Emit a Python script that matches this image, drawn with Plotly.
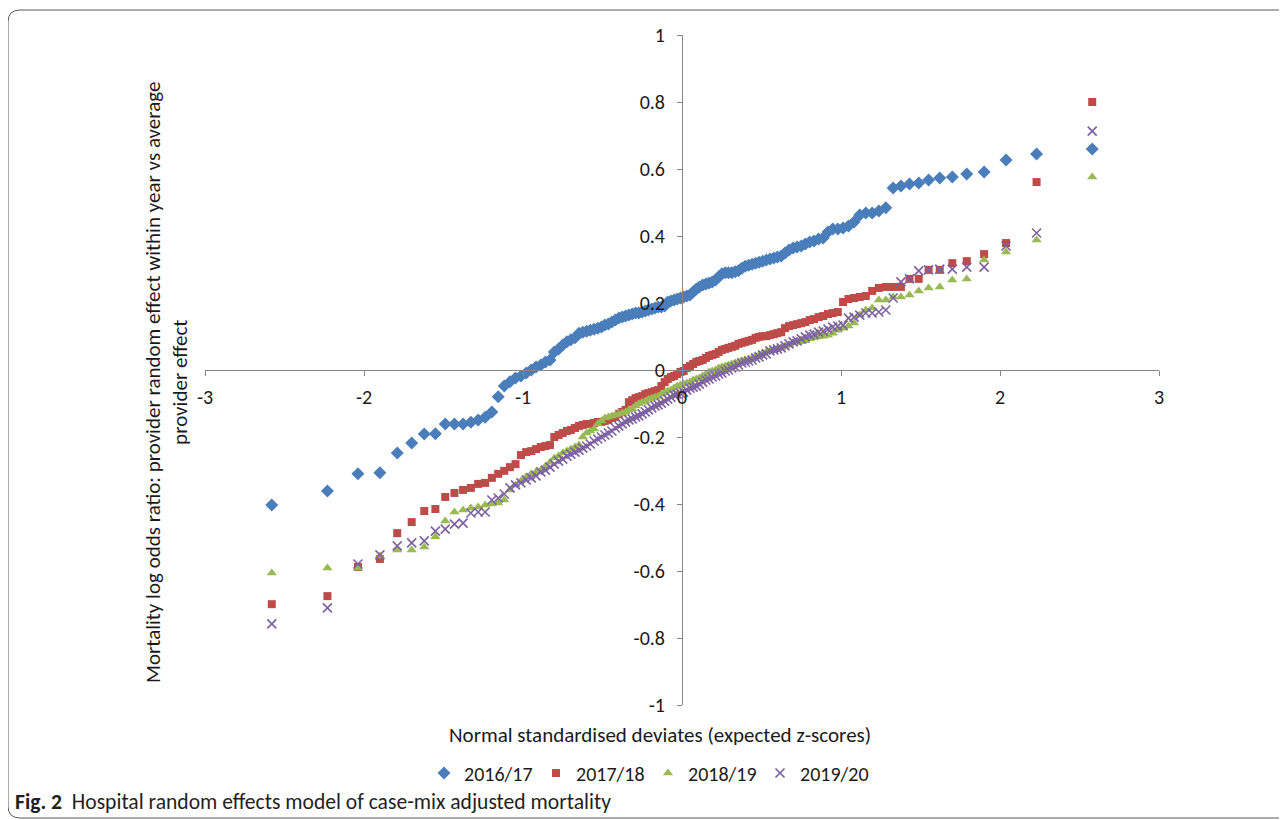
import plotly.graph_objects as go

# Expected z-scores (normal standardised deviates), one per ranked provider
z_scores = [-2.58, -2.23, -2.038, -1.900, -1.791, -1.700, -1.621, -1.551, -1.489, -1.431,
            -1.377, -1.328, -1.282, -1.238, -1.196, -1.156, -1.118, -1.082, -1.047, -1.013,
            -0.980, -0.948, -0.918, -0.888, -0.859, -0.830, -0.803, -0.776, -0.750, -0.724,
            -0.699, -0.673, -0.648, -0.624, -0.600, -0.577, -0.553, -0.530, -0.507, -0.485,
            -0.463, -0.441, -0.419, -0.397, -0.376, -0.355, -0.334, -0.313, -0.292, -0.272,
            -0.251, -0.231, -0.211, -0.190, -0.170, -0.150, -0.130, -0.109, -0.090, -0.070,
            -0.050, -0.030, -0.010,
            0.010, 0.030, 0.050, 0.070, 0.090, 0.109, 0.130, 0.150, 0.170, 0.190,
            0.211, 0.231, 0.251, 0.272, 0.292, 0.313, 0.334, 0.355, 0.376, 0.397,
            0.419, 0.441, 0.463, 0.485, 0.507, 0.530, 0.553, 0.577, 0.600, 0.624,
            0.648, 0.673, 0.699, 0.724, 0.750, 0.776, 0.803, 0.830, 0.859, 0.888,
            0.918, 0.948, 0.980, 1.013, 1.047, 1.082, 1.118, 1.156, 1.196, 1.238,
            1.282, 1.328, 1.377, 1.431, 1.489, 1.551, 1.621, 1.700, 1.791, 1.900,
            2.038, 2.23, 2.58]

y_2016_17 = [-0.403, -0.361, -0.310, -0.307, -0.248, -0.218, -0.191, -0.190, -0.161, -0.161,
             -0.161, -0.156, -0.149, -0.141, -0.125, -0.080, -0.048, -0.035, -0.024, -0.018,
             -0.009, 0.000, 0.009, 0.015, 0.024, 0.030, 0.054, 0.063, 0.075, 0.084,
             0.090, 0.096, 0.110, 0.113, 0.116, 0.119, 0.122, 0.125, 0.128, 0.134,
             0.137, 0.143, 0.149, 0.155, 0.158, 0.161, 0.164, 0.167, 0.170, 0.170,
             0.173, 0.176, 0.179, 0.182, 0.185, 0.188, 0.188, 0.191, 0.203, 0.206,
             0.209, 0.212, 0.215,
             0.218, 0.221, 0.224, 0.233, 0.242, 0.248, 0.254, 0.257, 0.260, 0.263,
             0.269, 0.278, 0.287, 0.290, 0.290, 0.290, 0.293, 0.296, 0.304, 0.310,
             0.313, 0.316, 0.319, 0.322, 0.325, 0.328, 0.331, 0.334, 0.337, 0.340,
             0.349, 0.358, 0.364, 0.367, 0.370, 0.376, 0.382, 0.385, 0.391, 0.394,
             0.412, 0.421, 0.421, 0.424, 0.430, 0.442, 0.463, 0.469, 0.469, 0.475,
             0.484, 0.543, 0.549, 0.555, 0.558, 0.567, 0.573, 0.576, 0.585, 0.591,
             0.627, 0.645, 0.660]

y_2017_18 = [-0.699, -0.675, -0.588, -0.564, -0.487, -0.454, -0.421, -0.415, -0.379, -0.367,
             -0.358, -0.352, -0.340, -0.337, -0.322, -0.310, -0.301, -0.290, -0.281, -0.254,
             -0.245, -0.242, -0.236, -0.230, -0.227, -0.224, -0.200, -0.194, -0.188, -0.182,
             -0.179, -0.173, -0.167, -0.164, -0.161, -0.161, -0.158, -0.155, -0.155, -0.152,
             -0.149, -0.143, -0.140, -0.131, -0.125, -0.119, -0.096, -0.090, -0.084, -0.081,
             -0.078, -0.072, -0.069, -0.066, -0.063, -0.060, -0.048, -0.036, -0.027, -0.021,
             -0.018, -0.012, -0.006,
             -0.003, 0.006, 0.012, 0.018, 0.024, 0.027, 0.030, 0.036, 0.042, 0.045,
             0.048, 0.054, 0.060, 0.063, 0.066, 0.069, 0.072, 0.078, 0.081, 0.084,
             0.087, 0.090, 0.096, 0.099, 0.101, 0.101, 0.104, 0.107, 0.110, 0.113,
             0.125, 0.131, 0.134, 0.137, 0.140, 0.143, 0.149, 0.152, 0.158, 0.161,
             0.167, 0.170, 0.173, 0.203, 0.212, 0.215, 0.218, 0.221, 0.236, 0.245,
             0.248, 0.248, 0.248, 0.272, 0.272, 0.299, 0.299, 0.319, 0.325, 0.346,
             0.379, 0.561, 0.800]

y_2018_19 = [-0.606, -0.591, -0.591, -0.555, -0.537, -0.537, -0.528, -0.498, -0.451, -0.424,
             -0.418, -0.412, -0.409, -0.403, -0.400, -0.397, -0.388, -0.358, -0.343, -0.331,
             -0.319, -0.310, -0.304, -0.299, -0.287, -0.275, -0.263, -0.257, -0.248, -0.242,
             -0.236, -0.230, -0.224, -0.200, -0.188, -0.182, -0.176, -0.161, -0.152, -0.143,
             -0.140, -0.137, -0.134, -0.131, -0.128, -0.125, -0.119, -0.116, -0.107, -0.101,
             -0.096, -0.093, -0.087, -0.084, -0.081, -0.078, -0.072, -0.069, -0.063, -0.060,
             -0.054, -0.048, -0.045,
             -0.042, -0.039, -0.036, -0.030, -0.027, -0.024, -0.018, -0.012, -0.006, -0.003,
             0.000, 0.006, 0.009, 0.012, 0.015, 0.018, 0.021, 0.024, 0.027, 0.030,
             0.033, 0.036, 0.042, 0.045, 0.051, 0.054, 0.057, 0.060, 0.063, 0.066,
             0.072, 0.075, 0.081, 0.081, 0.084, 0.087, 0.093, 0.096, 0.099, 0.101,
             0.104, 0.110, 0.119, 0.125, 0.131, 0.140, 0.164, 0.179, 0.185, 0.209,
             0.209, 0.218, 0.218, 0.224, 0.236, 0.245, 0.248, 0.269, 0.272, 0.328,
             0.352, 0.388, 0.576]

y_2019_20 = [-0.758, -0.710, -0.579, -0.552, -0.525, -0.516, -0.510, -0.481, -0.475, -0.460,
             -0.457, -0.427, -0.424, -0.424, -0.388, -0.382, -0.370, -0.352, -0.343, -0.337,
             -0.328, -0.322, -0.316, -0.304, -0.299, -0.290, -0.281, -0.272, -0.266, -0.257,
             -0.251, -0.245, -0.239, -0.233, -0.227, -0.221, -0.212, -0.206, -0.200, -0.194,
             -0.188, -0.182, -0.173, -0.167, -0.161, -0.155, -0.149, -0.146, -0.140, -0.137,
             -0.131, -0.125, -0.119, -0.113, -0.107, -0.104, -0.099, -0.093, -0.087, -0.081,
             -0.075, -0.072, -0.069,
             -0.066, -0.060, -0.054, -0.051, -0.048, -0.042, -0.036, -0.030, -0.027, -0.021,
             -0.018, -0.012, -0.009, -0.003, 0.000, 0.006, 0.009, 0.015, 0.021, 0.024,
             0.027, 0.030, 0.036, 0.039, 0.045, 0.048, 0.057, 0.060, 0.063, 0.066,
             0.072, 0.078, 0.084, 0.087, 0.093, 0.099, 0.104, 0.107, 0.113, 0.116,
             0.122, 0.128, 0.131, 0.134, 0.155, 0.158, 0.164, 0.170, 0.170, 0.173,
             0.179, 0.215, 0.263, 0.272, 0.296, 0.299, 0.301, 0.301, 0.307, 0.307,
             0.370, 0.409, 0.713]

series_names = ["2016/17", "2017/18", "2018/19", "2019/20"]
x_ticks = [-3, -2, -1, 0, 1, 2, 3]
x_tick_text = ["-3", "-2", "-1", "0", "1", "2", "3"]
y_ticks = [-1, -0.8, -0.6, -0.4, -0.2, 0, 0.2, 0.4, 0.6, 0.8, 1]
y_tick_text = ["-1", "-0.8", "-0.6", "-0.4", "-0.2", "0", "0.2", "0.4", "0.6", "0.8", "1"]

for s in (y_2016_17, y_2017_18, y_2018_19, y_2019_20):
    assert len(s) == len(z_scores)

FONT = "Carlito, Lato, sans-serif"
BODY = 8                      # default page margin of the html body
W, H = 1287 - BODY, 820 - BODY
# plot area in page pixels: x 205..1159, y 35..705
PL, PR, PT, PB = 205, 1159, 35, 705
ML, MT = PL - BODY, PT - BODY
MR, MB = W - (PR - BODY), H - (PB - BODY)
PW, PH = PR - PL, PB - PT


def px(xp):
    return (xp - PL) / PW


def py(yp):
    return (PB - yp) / PH


styles = [
    dict(symbol="diamond", size=10, color="#4A7EBB", line=dict(width=0)),
    dict(symbol="square", size=8, color="#BE4B48", line=dict(width=0)),
    dict(symbol="triangle-up", size=9, color="#98B954", line=dict(width=0)),
    dict(symbol="x-thin", size=9, color="#7D60A0", line=dict(width=1.6, color="#7D60A0")),
]

fig = go.Figure()
for name, ys, st in zip(series_names, [y_2016_17, y_2017_18, y_2018_19, y_2019_20], styles):
    fig.add_trace(go.Scatter(x=z_scores, y=ys, mode="markers", name=name, marker=st,
                             cliponaxis=False))

TXT = "#1a1a1a"
axis_common = dict(showgrid=False, zeroline=False, showline=True, linecolor="#868686",
                   linewidth=1, ticks="outside", ticklen=5, tickcolor="#868686",
                   tickfont=dict(family=FONT, size=20, color=TXT))

fig.update_layout(
    width=W, height=H,
    margin=dict(l=ML, r=MR, t=MT, b=MB),
    paper_bgcolor="white", plot_bgcolor="white",
    font=dict(family=FONT, size=20, color=TXT),
    xaxis=dict(range=[-3, 3], tickvals=x_ticks, ticktext=x_tick_text,
               anchor="free", position=0.5, ticklabelstandoff=4, **axis_common),
    yaxis=dict(range=[-1, 1], tickvals=y_ticks, ticktext=y_tick_text,
               anchor="free", position=0.5, ticklabelstandoff=8, **axis_common),
    legend=dict(orientation="h", x=px(424), xanchor="left", y=py(773), yanchor="middle",
                font=dict(family=FONT, size=20, color=TXT), entrywidth=67,
                itemwidth=30, bgcolor="rgba(0,0,0,0)"),
    showlegend=True,
)

fig.add_annotation(text="Normal standardised deviates (expected z-scores)",
                   xref="paper", yref="paper", x=px(660), y=py(735),
                   xanchor="center", yanchor="middle", showarrow=False,
                   font=dict(family=FONT, size=21, color=TXT))
fig.add_annotation(text="Mortality log odds ratio: provider random effect within year vs average<br>provider effect",
                   xref="paper", yref="paper", x=px(166), y=py(383),
                   xanchor="center", yanchor="middle", showarrow=False, textangle=-90,
                   font=dict(family=FONT, size=21, color=TXT))
fig.add_annotation(text="<b>Fig. 2</b>  Hospital random effects model of case-mix adjusted mortality",
                   xref="paper", yref="paper", x=px(13), y=py(801),
                   xanchor="left", yanchor="middle", showarrow=False,
                   font=dict(family=FONT, size=21.6, color="#231f20"))

# Rounded frame around the figure (as in the journal figure box)
r = 12
L, T, R, B = 8, 10, 1300, 818
path = (f"M {px(R)} {py(T)} L {px(L + r)} {py(T)} Q {px(L)} {py(T)} {px(L)} {py(T + r)} "
        f"L {px(L)} {py(B - r)} Q {px(L)} {py(B)} {px(L + r)} {py(B)} L {px(R)} {py(B)}")
fig.add_shape(type="path", path=path, xref="paper", yref="paper",
              line=dict(color="#5a5a5a", width=1))

fig.write_html("out.html")
